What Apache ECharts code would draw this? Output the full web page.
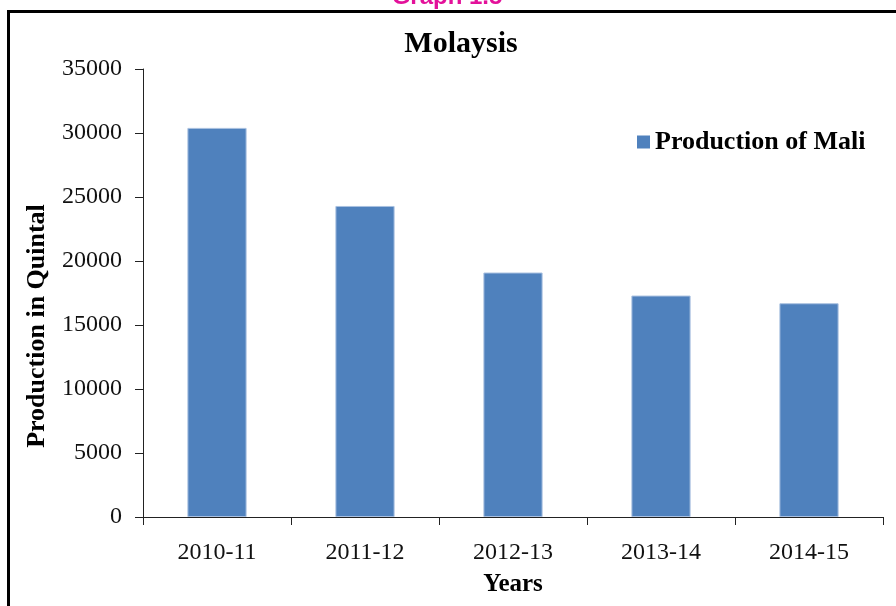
<!DOCTYPE html>
<html>
<head>
<meta charset="utf-8">
<title>Molaysis</title>
<script src="https://cdn.jsdelivr.net/npm/echarts@6/dist/echarts.min.js"></script>
<style>
  html, body { margin: 0; padding: 0; background: #fff; }
  #main { width: 896px; height: 606px; }
</style>
</head>
<body>
<div id="main"></div>
<script>
var years = ['2010-11', '2011-12', '2012-13', '2013-14', '2014-15'];
var production = [30400, 24300, 19100, 17300, 16700];
var yTicks = [0, 5000, 10000, 15000, 20000, 25000, 30000, 35000];

var serif = '"Liberation Serif", "DejaVu Serif", serif';

var chart = echarts.init(document.getElementById('main'));

var option = {
    backgroundColor: '#fff',
    animation: false,
    title: {
        text: 'Molaysis',
        left: 456,
        top: 24,
        textAlign: 'center',
        textStyle: { fontFamily: serif, fontSize: 30, fontWeight: 'bold', color: '#000' }
    },
    legend: {
        data: ['Production of Mali'],
        left: 632,
        top: 124,
        icon: 'rect',
        itemWidth: 13,
        itemHeight: 13,
        itemGap: 6,
        itemStyle: { borderWidth: 0 },
        textStyle: { fontFamily: serif, fontSize: 26, fontWeight: 'bold', color: '#000' }
    },
    grid: { left: 143, right: 13, top: 69, bottom: 89, containLabel: false, outerBoundsMode: 'none' },
    xAxis: {
        type: 'category',
        data: years,
        name: 'Years',
        nameLocation: 'middle',
        nameGap: 55,
        nameTextStyle: { fontFamily: serif, fontSize: 25, fontWeight: 'bold', color: '#000' },
        axisLine: { lineStyle: { color: '#222', width: 1 } },
        axisTick: { show: true, length: 8, alignWithLabel: false, lineStyle: { color: '#222' } },
        axisLabel: { margin: 24, fontFamily: serif, fontSize: 24, color: '#111' }
    },
    yAxis: {
        type: 'value',
        min: yTicks[0],
        max: yTicks[yTicks.length - 1],
        interval: yTicks[1] - yTicks[0],
        name: 'Production in Quintal',
        nameLocation: 'middle',
        nameGap: 93,
        nameRotate: 90,
        nameTextStyle: { fontFamily: serif, fontSize: 26, fontWeight: 'bold', color: '#000', padding: [0, 66, 0, 0] },
        axisLine: { show: true, lineStyle: { color: '#222', width: 1 } },
        axisTick: { show: true, length: 8, lineStyle: { color: '#222' } },
        splitLine: { show: false },
        axisLabel: {
            margin: 21, fontFamily: serif, fontSize: 24, color: '#111',
            formatter: function (v) { return String(v); }
        }
    },
    series: [{
        name: 'Production of Mali',
        type: 'bar',
        data: production,
        barWidth: '40%',
        itemStyle: { color: '#4f81bd', borderColor: '#a9c0e0', borderWidth: 1 }
    }],
    graphic: [
        {
            type: 'polyline',
            shape: { points: [[8.5, 606], [8.5, 11.5], [896, 11.5]] },
            style: { stroke: '#000', lineWidth: 3, fill: null }
        },
        {
            type: 'text',
            x: 447,
            y: 9,
            style: {
                text: 'Graph 1.5',
                fill: '#e3119a',
                font: 'bold 24px "Liberation Sans", Arial, sans-serif',
                align: 'center',
                verticalAlign: 'bottom'
            }
        }
    ]
};

chart.setOption(option);
</script>
</body>
</html>
